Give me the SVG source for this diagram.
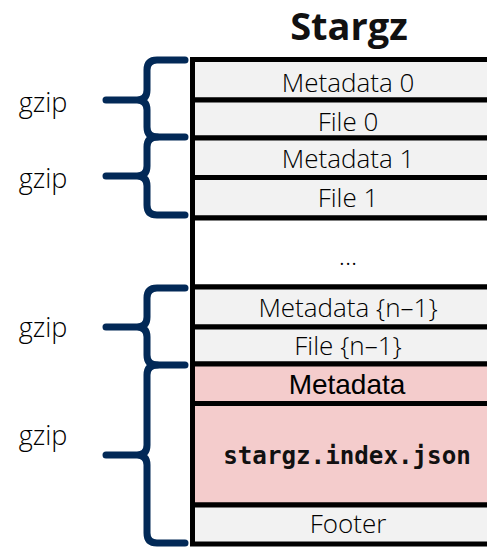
<svg xmlns="http://www.w3.org/2000/svg" width="487" height="548" viewBox="0 0 487 548">
  <style>
    .cell { stroke: #000; stroke-width: 5; }
    .plain { fill: #f2f2f2; }
    .empty { fill: #ffffff; }
    .index { fill: #f4cccc; }
    .lbl { font-family: "Open Sans", "Noto Sans", sans-serif; font-weight: 300; font-size: 26px; fill: #000; text-anchor: middle; }
    .lbl2 { font-family: "Liberation Sans", Arial, sans-serif; font-size: 28px; fill: #000; text-anchor: middle; }
    .mono { font-family: "DejaVu Sans Mono", "Liberation Mono", monospace; font-weight: bold; font-size: 24.2px; fill: #111; text-anchor: middle; }
    .gz { font-family: "Open Sans", "Noto Sans", sans-serif; font-weight: 300; font-size: 27px; fill: #000; text-anchor: middle; }
    .title { font-family: "Open Sans", "Noto Sans", sans-serif; font-weight: bold; font-size: 38px; fill: #111; text-anchor: middle; }
    .brace { fill: none; stroke: #022957; stroke-width: 7; stroke-linecap: round; stroke-linejoin: round; }
  </style>

  <text class="title" x="349" y="40">Stargz</text>

  <!-- stacked layers of the archive -->
  <g id="metadata0"><rect class="cell plain" x="192.5" y="59.5" width="312" height="40.5"/><text class="lbl" x="348" y="92">Metadata 0</text></g>
  <g id="file0"><rect class="cell plain" x="192.5" y="100" width="312" height="38"/><text class="lbl" x="348" y="131">File 0</text></g>
  <g id="metadata1"><rect class="cell plain" x="192.5" y="138" width="312" height="39.5"/><text class="lbl" x="348" y="168">Metadata 1</text></g>
  <g id="file1"><rect class="cell plain" x="192.5" y="177.5" width="312" height="40.5"/><text class="lbl" x="348" y="207">File 1</text></g>
  <g id="ellipsis"><rect class="cell empty" x="192.5" y="218" width="312" height="69"/><text class="lbl" x="348" y="265">...</text></g>
  <g id="metadata-n1"><rect class="cell plain" x="192.5" y="287" width="312" height="40"/><text class="lbl" x="348" y="317">Metadata {n–1}</text></g>
  <g id="file-n1"><rect class="cell plain" x="192.5" y="327" width="312" height="37"/><text class="lbl" x="348" y="355">File {n–1}</text></g>
  <g id="metadata"><rect class="cell index" x="192.5" y="364" width="312" height="39.5"/><text class="lbl2" x="347" y="394">Metadata</text></g>
  <g id="index"><rect class="cell index" x="192.5" y="403.5" width="312" height="101.5"/><text class="mono" x="347" y="464">stargz.index.json</text></g>
  <g id="footer"><rect class="cell plain" x="192.5" y="505" width="312" height="39"/><text class="lbl" x="348" y="533">Footer</text></g>

  <!-- gzip member braces -->
  <g id="connectors">
    <path class="brace" d="M185 60 H157 Q147 60 147 70 V90 Q147 100 137 100 H106 M137 100 Q147 100 147 110 V127 Q147 137 157 137 H185"/>
    <path class="brace" d="M157 137 Q147 137 147 147 V166 Q147 176 137 176 H106 M137 176 Q147 176 147 186 V205 Q147 215 157 215 H185"/>
    <path class="brace" d="M185 288 H157 Q147 288 147 298 V317 Q147 327 137 327 H106 M137 327 Q147 327 147 337 V355 Q147 365 157 365 H185"/>
    <path class="brace" d="M157 365 Q147 365 147 375 V445 Q147 455 137 455 H106 M137 455 Q147 455 147 465 V533 Q147 543 157 543 H185"/>
  </g>

  <g id="gzip-labels">
    <text class="gz" x="43" y="112">gzip</text>
    <text class="gz" x="43" y="188">gzip</text>
    <text class="gz" x="43" y="337">gzip</text>
    <text class="gz" x="43" y="445">gzip</text>
  </g>
</svg>
